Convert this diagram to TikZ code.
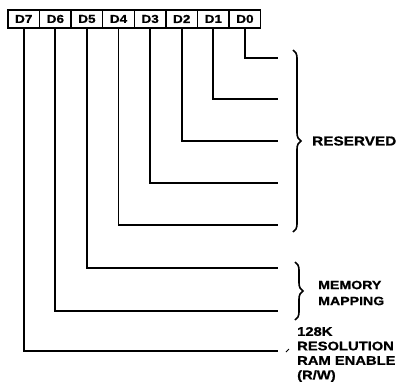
\documentclass[tikz,border=0pt]{standalone}
\usepackage{fontspec}
\setsansfont{Liberation Sans}[FakeStretch=1.18, BoldFeatures={FakeBold=0.8}]
\usetikzlibrary{matrix, decorations.pathreplacing}

\begin{document}
\begin{tikzpicture}[x=1pt, y=-1pt,
		font=\sffamily\bfseries,
		% Register styles
		register/.style={matrix of nodes, nodes={draw, line width=1.5pt, minimum width=31.6pt, minimum height=18pt, inner sep=0pt, anchor=center, font=\sffamily\bfseries\fontsize{11.5}{12}\selectfont}, column sep=-1.5pt, inner sep=0pt},
		% Bit line styles
		wire/.style={line width=1.8pt},
		bracket/.style={decorate, decoration={brace, amplitude=8pt}, line width=1.6pt},
		fieldlabel/.style={anchor=west, align=left, inner sep=0pt}
		]
		
		\useasboundingbox (0,0) rectangle (407,383);
		
		% --- REGISTER ---
		\matrix (reg) [register, anchor=north west] at (7,9) {
			|(d7)| D7 & |(d6)| D6 & |(d5)| D5 & |(d4)| D4 & |(d3)| D3 & |(d2)| D2 & |(d1)| D1 & |(d0)| D0 \\
		};
		
		% --- BIT LINES ---
		\foreach \b/\y in {0/58, 1/99, 2/141, 3/183, 4/225, 5/268, 6/311, 7/351} {
			\coordinate (e\b) at (278,\y);
			\draw[wire] (d\b.south) |- (e\b);
		}
		
		% --- FIELDS ---
		\draw[bracket] (293,50) -- (293,232);
		\node[fieldlabel, font=\sffamily\bfseries\fontsize{13}{15}\selectfont] (reserved) at (312,141) {RESERVED};
		
		\draw[bracket] (295,262) -- (295,320);
		\node[fieldlabel, font=\sffamily\bfseries\fontsize{12}{16}\selectfont] (mapping) at (318,293) {MEMORY\\MAPPING};
		
		\node[fieldlabel, font=\sffamily\bfseries\fontsize{12.5}{14.5}\selectfont] (ramen) at (297,354.5) {128K\\RESOLUTION\\RAM ENABLE\\(R/W)};
		\draw[line width=0.8pt] (286,352) -- (289,349);
		
	\end{tikzpicture}
\end{document}
